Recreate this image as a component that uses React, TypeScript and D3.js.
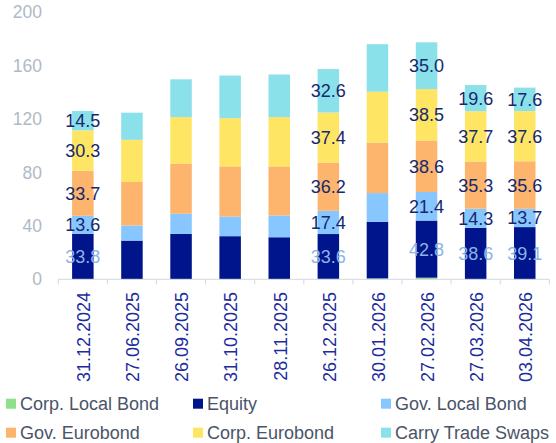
import React from 'react';
import * as d3 from 'd3';

const dates = ['31.12.2024', '27.06.2025', '26.09.2025', '31.10.2025', '28.11.2025', '26.12.2025', '30.01.2026', '27.02.2026', '27.03.2026', '03.04.2026'];

const corpLocalBond = [0.2, 0.2, 0.2, 0.2, 0.2, 0.3, 0.6, 1.2, 0, 0];
const equity = [33.8, 28.8, 33.8, 32.1, 31.3, 33.6, 42.4, 42.8, 38.6, 39.1];
const govLocalBond = [13.6, 11.3, 15.1, 14.7, 16.3, 17.4, 21.6, 21.4, 14.3, 13.7];
const govEurobond = [33.7, 32.6, 37.6, 37.6, 36.8, 36.2, 37.9, 38.6, 35.3, 35.6];
const corpEurobond = [30.3, 31.6, 34.8, 36.1, 36.9, 37.4, 38.0, 38.5, 37.7, 37.6];
const carryTradeSwaps = [14.5, 20.3, 28.3, 31.9, 31.9, 32.6, 35.6, 35.0, 19.6, 17.6];

// only these dates carry value labels in the original
const labeledDates = ['31.12.2024', '26.12.2025', '27.02.2026', '27.03.2026', '03.04.2026'];

const yTicks = [0, 40, 80, 120, 160, 200];

const series = [
  { key: 'Corp. Local Bond', values: corpLocalBond, color: '#8ee08a', label: null },
  { key: 'Equity', values: equity, color: '#00148c', label: '#8ab4e6' },
  { key: 'Gov. Local Bond', values: govLocalBond, color: '#88c6ff', label: '#15296e' },
  { key: 'Gov. Eurobond', values: govEurobond, color: '#fdb46c', label: '#15296e' },
  { key: 'Corp. Eurobond', values: corpEurobond, color: '#ffe564', label: '#15296e' },
  { key: 'Carry Trade Swaps', values: carryTradeSwaps, color: '#8ae1e9', label: '#15296e' },
];

const width = 556;
const height = 443;
const font = '"Liberation Sans", Arial, sans-serif';

const App = () => {
  const x = d3.scaleBand().domain(dates).range([58.3, 549.3]).padding(0);
  const y = d3.scaleLinear().domain([0, 200]).range([279.3, 12.3]);
  const barW = 21.5;

  const table = dates.map((d, i) => {
    const row: any = { date: d };
    series.forEach(s => { row[s.key] = s.values[i]; });
    return row;
  });
  const stacked = d3.stack().keys(series.map(s => s.key))(table);

  const legendCols = [6, 193, 381];
  const legendRows = [403.7, 432.7];

  return (
    <svg width={width} height={height} style={{ position: 'absolute', left: 0, top: 0, fontFamily: font }}>
      <rect width={width} height={height} fill="#ffffff" />

      {/* y axis labels */}
      {yTicks.map(t => (
        <text key={t} x={42} y={y(t)} dy="0.35em" textAnchor="end" fontSize={17.5} fill="#b0b9c6">{t}</text>
      ))}

      {/* bars */}
      {stacked.map((layer, si) => (
        <g key={layer.key} fill={series[si].color}>
          {layer.map((d, i) => (
            <rect key={i} x={x(dates[i])! + x.bandwidth() / 2 - barW / 2} y={y(d[1])}
              width={barW} height={Math.max(0, y(d[0]) - y(d[1]))} />
          ))}
        </g>
      ))}

      {/* x axis */}
      <line x1={58.3} x2={549.3} y1={279.3} y2={279.3} stroke="#d4d8e0" strokeWidth={1} />
      {d3.range(dates.length + 1).map(i => {
        const px = 58.3 + x.step() * i;
        return <line key={i} x1={px} x2={px} y1={279.3} y2={284.5} stroke="#d4d8e0" strokeWidth={1} />;
      })}
      {dates.map(d => (
        <text key={d} transform={`translate(${x(d)! + x.bandwidth() / 2 + 1},292) rotate(-90)`}
          dy="0.35em" textAnchor="end" fontSize={18} fill="#1c2c9e">{d}</text>
      ))}

      {/* value labels */}
      {stacked.map((layer, si) => series[si].label && layer.map((d, i) => labeledDates.includes(dates[i]) ? (
        <text key={`${si}-${i}`} x={x(dates[i])! + x.bandwidth() / 2} y={(y(d[0]) + y(d[1])) / 2}
          dy="0.36em" textAnchor="middle" fontSize={18} fill={series[si].label!}>
          {series[si].values[i].toFixed(1)}
        </text>
      ) : null))}

      {/* legend */}
      {series.map((s, i) => {
        const lx = legendCols[i % 3];
        const ly = legendRows[Math.floor(i / 3)];
        return (
          <g key={s.key}>
            <rect x={lx} y={ly - 5} width={10} height={10} fill={s.color} />
            <text x={lx + 14} y={ly} dy="0.35em" fontSize={18} fill="#4a5468">{s.key}</text>
          </g>
        );
      })}
    </svg>
  );
};

export default App;
